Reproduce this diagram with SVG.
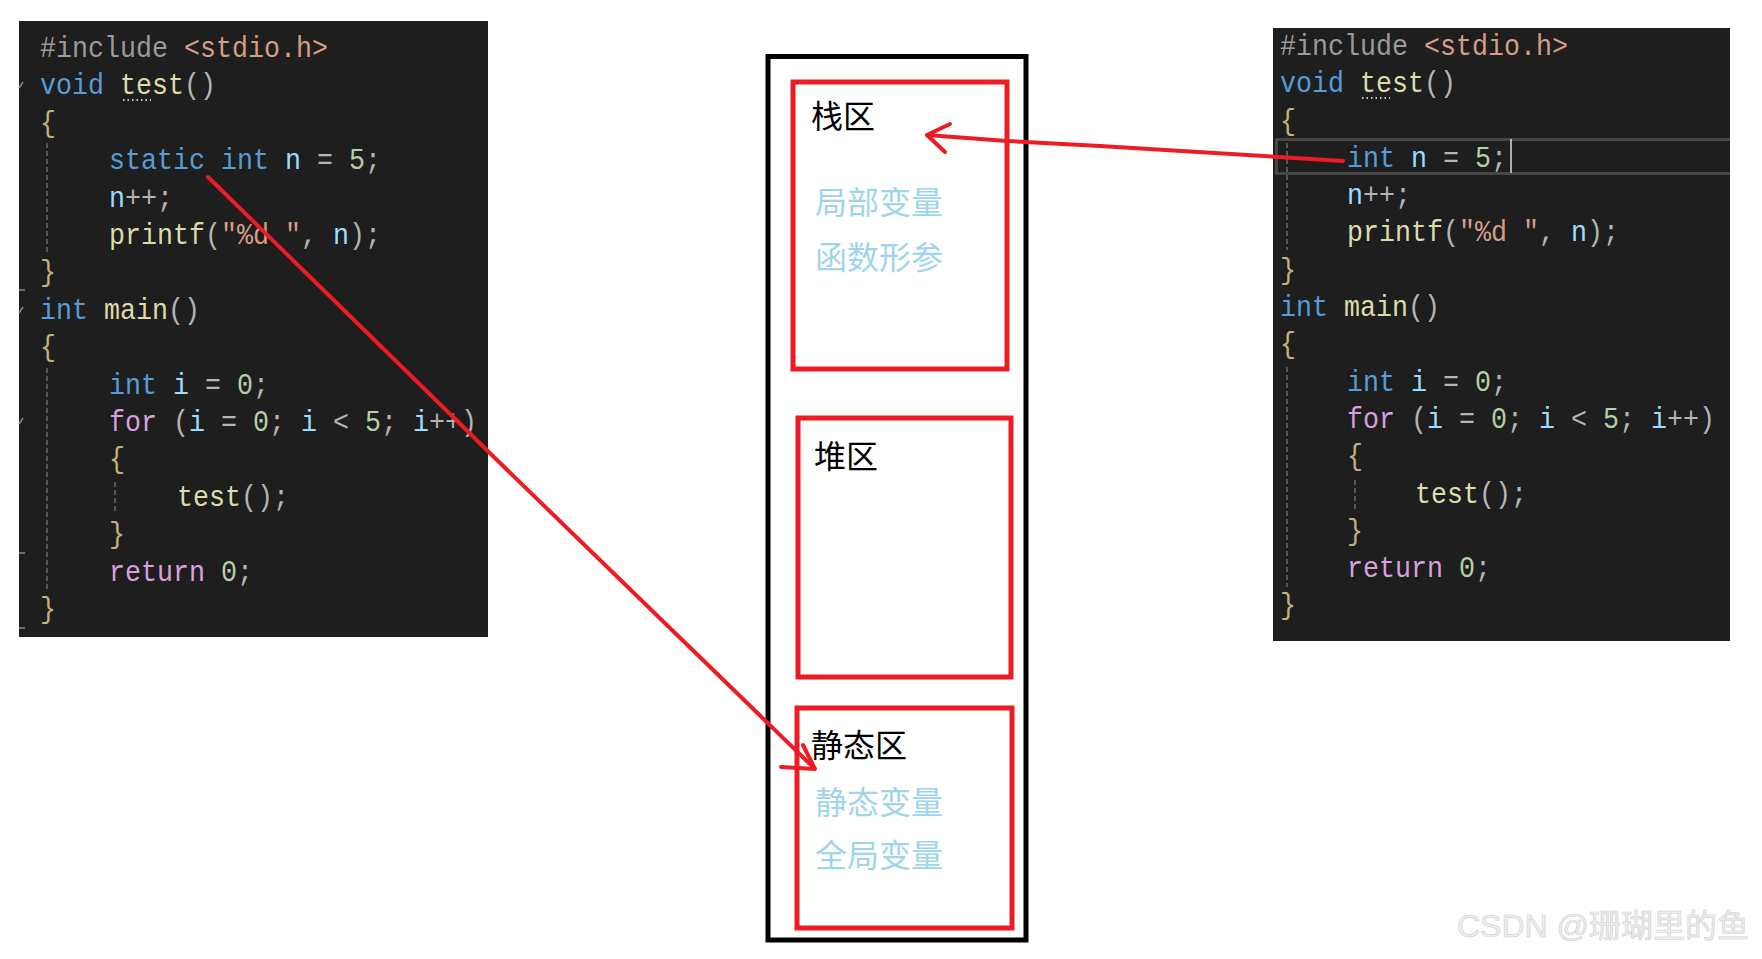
<svg xmlns="http://www.w3.org/2000/svg" width="1762" height="959" viewBox="0 0 1762 959">
<style>
.code{font-family:"Liberation Mono","DejaVu Sans Mono",monospace;font-size:30px}
.pp{fill:#9b9b9b}.str{fill:#d69d85}.kw{fill:#569cd6}.fn{fill:#dcdcaa}.v{fill:#9cdcfe}.n{fill:#b5cea8}.o{fill:#b4b4b4}.b{fill:#c2b07e}.c{fill:#d8a0df}
.panel{fill:#1e1e1e}
.guide{stroke:#6a6a6a;stroke-width:1.5;stroke-dasharray:5 3}
.tick{stroke:#8a8a8a;stroke-width:1.5;fill:none}
.dots{stroke:#c8c8c8;stroke-width:2;stroke-dasharray:1.5 3}
.zone{fill:none;stroke:#ed1c24;stroke-width:5}
.lbl{font-family:"Noto Sans CJK SC",sans-serif;font-size:32px;fill:#000}
.sub{font-family:"Noto Sans CJK SC",sans-serif;font-size:32px;fill:#9fd5ea}
.arrow{fill:none;stroke:#ed1c24;stroke-width:4;stroke-linecap:round;stroke-linejoin:round}
.wm{font-family:"Liberation Sans","Noto Sans CJK SC",sans-serif;font-size:32px;fill:#efefef;stroke:#cdcdcd;stroke-width:0.6}
</style>
<rect width="1762" height="959" fill="#ffffff"/>

<g id="left-code">
<rect class="panel" x="19" y="21" width="469" height="616"/>
<line class="guide" x1="47" y1="143" x2="47" y2="253"/>
<line class="guide" x1="47" y1="368" x2="47" y2="590"/>
<line class="guide" x1="115" y1="482" x2="115" y2="513"/>
<path class="tick" d="M19 88 L23 82 M19 313 L23 307 M19 424 L23 418 M19 290 H25 M19 553 H25 M19 628 H25"/>
<line class="dots" x1="123" y1="100" x2="151" y2="100"/>
<g transform="scale(0.888889 1)" class="code" xml:space="preserve">
<text x="45" y="57"><tspan class="pp">#include</tspan><tspan class="str"> &lt;stdio.h&gt;</tspan></text>
<text x="45" y="94.4"><tspan class="kw">void</tspan> <tspan class="fn">test</tspan><tspan class="o">()</tspan></text>
<text x="45" y="131.8" class="b">{</text>
<text x="122.6" y="169.2"><tspan class="kw">static</tspan> <tspan class="kw">int</tspan> <tspan class="v">n</tspan> <tspan class="o">=</tspan> <tspan class="n">5</tspan><tspan class="o">;</tspan></text>
<text x="122.6" y="206.6"><tspan class="v">n</tspan><tspan class="o">++;</tspan></text>
<text x="122.6" y="244"><tspan class="fn">printf</tspan><tspan class="o">(</tspan><tspan class="str">"%d "</tspan><tspan class="o">,</tspan> <tspan class="v">n</tspan><tspan class="o">);</tspan></text>
<text x="45" y="281.4" class="b">}</text>
<text x="45" y="318.8"><tspan class="kw">int</tspan> <tspan class="fn">main</tspan><tspan class="o">()</tspan></text>
<text x="45" y="356.2" class="b">{</text>
<text x="122.6" y="393.6"><tspan class="kw">int</tspan> <tspan class="v">i</tspan> <tspan class="o">=</tspan> <tspan class="n">0</tspan><tspan class="o">;</tspan></text>
<text x="122.6" y="431"><tspan class="c">for</tspan> <tspan class="o">(</tspan><tspan class="v">i</tspan> <tspan class="o">=</tspan> <tspan class="n">0</tspan><tspan class="o">;</tspan> <tspan class="v">i</tspan> <tspan class="o">&lt;</tspan> <tspan class="n">5</tspan><tspan class="o">;</tspan> <tspan class="v">i</tspan><tspan class="o">++)</tspan></text>
<text x="122.6" y="468.4" class="b">{</text>
<text x="199" y="505.8"><tspan class="fn">test</tspan><tspan class="o">();</tspan></text>
<text x="122.6" y="543.2" class="b">}</text>
<text x="122.6" y="580.6"><tspan class="c">return</tspan> <tspan class="n">0</tspan><tspan class="o">;</tspan></text>
<text x="45" y="618" class="b">}</text>
</g>
</g>

<g id="right-code">
<rect class="panel" x="1273" y="28" width="457" height="613"/>
<path d="M1730 139.5 H1276.5 V173.5 H1730" fill="none" stroke="#464646" stroke-width="3"/>
<line class="guide" x1="1287" y1="143" x2="1287" y2="250"/>
<line class="guide" x1="1287" y1="367" x2="1287" y2="587"/>
<line class="guide" x1="1355" y1="480" x2="1355" y2="510"/>
<line class="dots" x1="1362" y1="98" x2="1390" y2="98"/>
<line x1="1511" y1="139" x2="1511" y2="173" stroke="#dcdcdc" stroke-width="1.5"/>
<g transform="scale(0.888889 1)" class="code" xml:space="preserve">
<text x="1440" y="55"><tspan class="pp">#include</tspan><tspan class="str"> &lt;stdio.h&gt;</tspan></text>
<text x="1440" y="92.3"><tspan class="kw">void</tspan> <tspan class="fn">test</tspan><tspan class="o">()</tspan></text>
<text x="1440" y="129.6" class="b">{</text>
<text x="1515.4" y="166.9"><tspan class="kw">int</tspan> <tspan class="v">n</tspan> <tspan class="o">=</tspan> <tspan class="n">5</tspan><tspan class="o">;</tspan></text>
<text x="1515.4" y="204.2"><tspan class="v">n</tspan><tspan class="o">++;</tspan></text>
<text x="1515.4" y="241.5"><tspan class="fn">printf</tspan><tspan class="o">(</tspan><tspan class="str">"%d "</tspan><tspan class="o">,</tspan> <tspan class="v">n</tspan><tspan class="o">);</tspan></text>
<text x="1440" y="278.8" class="b">}</text>
<text x="1440" y="316.1"><tspan class="kw">int</tspan> <tspan class="fn">main</tspan><tspan class="o">()</tspan></text>
<text x="1440" y="353.4" class="b">{</text>
<text x="1515.4" y="390.7"><tspan class="kw">int</tspan> <tspan class="v">i</tspan> <tspan class="o">=</tspan> <tspan class="n">0</tspan><tspan class="o">;</tspan></text>
<text x="1515.4" y="428"><tspan class="c">for</tspan> <tspan class="o">(</tspan><tspan class="v">i</tspan> <tspan class="o">=</tspan> <tspan class="n">0</tspan><tspan class="o">;</tspan> <tspan class="v">i</tspan> <tspan class="o">&lt;</tspan> <tspan class="n">5</tspan><tspan class="o">;</tspan> <tspan class="v">i</tspan><tspan class="o">++)</tspan></text>
<text x="1515.4" y="465.3" class="b">{</text>
<text x="1592" y="502.6"><tspan class="fn">test</tspan><tspan class="o">();</tspan></text>
<text x="1515.4" y="539.9" class="b">}</text>
<text x="1515.4" y="577.2"><tspan class="c">return</tspan> <tspan class="n">0</tspan><tspan class="o">;</tspan></text>
<text x="1440" y="614.5" class="b">}</text>
</g>
</g>

<g id="memory">
<rect x="768" y="56.5" width="258" height="883.5" fill="none" stroke="#000" stroke-width="5"/>
</g>
<g id="stack">
<rect class="zone" x="793" y="82" width="214" height="287"/>
<text class="lbl" x="811" y="128">栈区</text>
<text class="sub" x="815" y="214">局部变量</text>
<text class="sub" x="815" y="269">函数形参</text>
</g>
<g id="heap">
<rect class="zone" x="798" y="418" width="213" height="259"/>
<text class="lbl" x="814" y="468">堆区</text>
</g>
<g id="static">
<rect class="zone" x="797" y="708" width="215" height="220"/>
<text class="lbl" x="811" y="757">静态区</text>
<text class="sub" x="815" y="814">静态变量</text>
<text class="sub" x="815" y="867">全局变量</text>
</g>

<g id="connectors">
<polyline class="arrow" points="1343,161 1100,146 1007,141 927,135"/>
<polyline class="arrow" points="950,124 927,135 945,152"/>
<polyline class="arrow" points="208,177 497,460 813,767"/>
<polyline class="arrow" points="781,767 815,769 803,745"/>
</g>

<g id="watermark">
<text class="wm" x="1457" y="937">CSDN @珊瑚里的鱼</text>
</g>
</svg>
